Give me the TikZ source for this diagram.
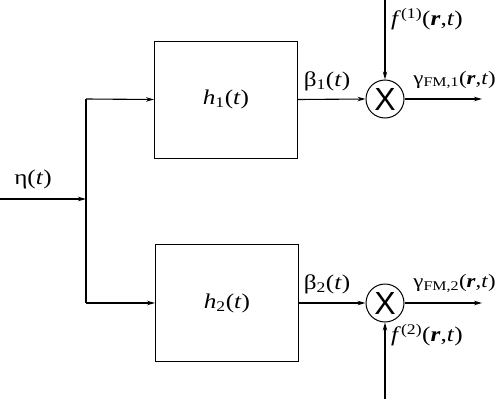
\documentclass[tikz,border=0pt]{standalone}
\usepackage{fontspec}
\setmainfont{Liberation Serif}[FakeStretch=1.2]
\newfontfamily\xsans{Liberation Sans}
\usetikzlibrary{arrows.meta}
\begin{document}
\begin{tikzpicture}[x=1pt,y=-1pt,
  lbl/.style={font=\fontsize{21}{25}\selectfont, inner sep=0pt},
  glbl/.style={font=\fontsize{19}{23}\selectfont, inner sep=0pt, anchor=east},
  blk/.style={draw, line width=1pt, minimum width=143pt, minimum height=117pt, inner sep=0pt, font=\fontsize{21}{25}\selectfont},
  mult/.style={draw, circle, line width=1pt, minimum size=38pt, inner sep=0pt, font=\xsans\fontsize{32}{32}\selectfont},
  conn/.style={line width=1.1pt, -{Stealth[length=8pt,width=4.5pt]}},
  wire/.style={line width=1.1pt}]
\useasboundingbox (0,0) rectangle (498,399);
\node[blk] (h1) at (226,99.5) {\textit{h}\textsubscript{1}(\textit{t})};
\node[blk] (h2) at (227,303) {\textit{h}\textsubscript{2}(\textit{t})};
\node[mult] (m1) at (385,99) {X};
\node[mult] (m2) at (385,303) {X};
\coordinate (in) at (0,199);
\coordinate (j) at (86,199);
\coordinate (jt) at (86,99);
\coordinate (jb) at (86,303);
\coordinate (f1) at (385,0);
\coordinate (f2) at (385,399);
\coordinate (o1) at (482,99);
\coordinate (o2) at (482,303);
\draw[conn] (in) -- (j);
\draw[wire] (jt) -- (jb);
\draw[conn] (jt) -- (h1.west);
\draw[conn] (jb) -- (h2.west);
\draw[conn] (h1.east) -- (m1.west);
\draw[conn] (h2.east) -- (m2.west);
\draw[conn] (f1) -- (m1.north);
\draw[conn] (f2) -- (m2.south);
\draw[conn] (m1.east) -- (o1);
\draw[conn] (m2.east) -- (o2);
\node[lbl] (eta) at (33,179) {η(\textit{t})};
\node[lbl] (b1) at (327,81) {β\textsubscript{1}(\textit{t})};
\node[lbl] (b2) at (327,284) {β\textsubscript{2}(\textit{t})};
\node[glbl] (g1) at (496,80) {γ\textsubscript{FM,1}(\textbf{\textit{r}},\textit{t})};
\node[glbl] (g2) at (496,283) {γ\textsubscript{FM,2}(\textbf{\textit{r}},\textit{t})};
\node[lbl, anchor=west] (l1) at (391,19) {\textit{f}\textsuperscript{(1)}(\textbf{\textit{r}},\textit{t})};
\node[lbl, anchor=west] (l2) at (391,335) {\textit{f}\textsuperscript{(2)}(\textbf{\textit{r}},\textit{t})};
\end{tikzpicture}
\end{document}
